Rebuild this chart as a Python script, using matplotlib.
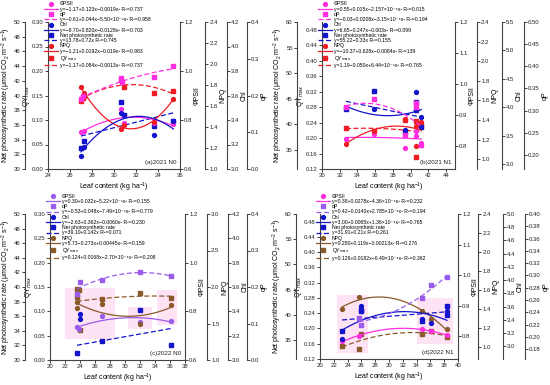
import numpy as np
import matplotlib
matplotlib.use("Agg")
import matplotlib.pyplot as plt
from matplotlib.lines import Line2D
from matplotlib.patches import Rectangle

plt.rcParams['font.family'] = ['Liberation Sans', 'DejaVu Sans']
plt.rcParams['mathtext.fontset'] = 'custom'
plt.rcParams['mathtext.rm'] = 'Liberation Sans'

# ---------------- data ----------------
# panel (a) 2021 N0
a_phi_x = [27.0, 27.3, 30.6, 30.9, 33.6, 35.4]
a_phi_y = [0.749, 0.754, 0.843, 0.786, 0.786, 0.784]
a_qp_x = [27.0, 27.2, 30.6, 30.7, 33.6, 35.4]
a_qp_y = [0.190, 0.198, 0.248, 0.236, 0.250, 0.279]
a_chl_x = [27.0, 27.3, 30.6, 30.9, 33.6, 35.4]
a_chl_y = [3.11, 3.18, 3.46, 3.44, 3.28, 3.39]
a_pn_x = [27.0, 27.3, 30.6, 30.9, 33.6, 35.4]
a_pn_y = [32.9, 33.8, 39.1, 37.3, 35.9, 36.5]
a_npq_x = [27.0, 27.3, 30.6, 30.9, 33.6, 35.4]
a_npq_y = [1.78, 1.72, 1.38, 1.42, 1.45, 1.67]
a_qy_x = [27.0, 27.2, 27.3, 30.6, 30.9, 33.6, 35.4]
a_qy_y = [0.138, 0.145, 0.150, 0.182, 0.168, 0.155, 0.159]
a_eq = ["y=\u22121.17+0.123x\u22120.0019x\u00b2 R\u00b2=0.737",
        "y=\u22120.61+0.044x\u22125.50\u00d710\u207b\u2074x\u00b2 R\u00b2=0.958",
        "y=\u22129.70+0.820x\u22120.0128x\u00b2 R\u00b2=0.703",
        "y=13.78+0.72x R\u00b2=0.745",
        "y=\u22121.21+0.0192x\u22120.019x\u00b2 R\u00b2=0.983",
        "y=\u22121.17+0.084x\u22120.0013x\u00b2 R\u00b2=0.737"]

# panel (b) 2021 N1
b_phi_x = [32.7, 35.9, 39.4, 40.6, 40.6, 41.2]
b_phi_y = [0.824, 0.840, 0.795, 0.848, 0.832, 0.811]
b_qp_x = [32.7, 35.9, 39.4, 40.6, 40.6, 41.2]
b_qp_y = [0.308, 0.325, 0.245, 0.317, 0.309, 0.223]
b_chl_x = [32.7, 35.9, 39.4, 40.6, 41.2]
b_chl_y = [3.99, 3.97, 3.60, 4.27, 3.82]
b_pn_x = [32.7, 35.9, 39.4, 40.6, 40.6, 41.2]
b_pn_y = [43.0, 46.4, 38.4, 44.3, 42.7, 39.4]
b_npq_x = [32.7, 35.9, 39.4, 40.6, 40.6, 41.2]
b_npq_y = [1.16, 1.29, 1.41, 1.34, 1.13, 1.38]
b_qy_x = [32.7, 35.9, 39.4, 40.6, 40.6, 41.2]
b_qy_y = [0.226, 0.218, 0.246, 0.244, 0.150, 0.235]
b_eq = ["y=0.55+0.015x\u22122.157\u00d710\u207b\u2074x\u00b2 R\u00b2=0.015",
        "y=\u22120.03+0.0208x\u22123.15\u00d710\u207b\u2074x\u00b2 R\u00b2=0.194",
        "y=6.65\u22120.247x\u22120.003x\u00b2 R\u00b2=0.099",
        "y=55.22\u22120.33x R\u00b2=0.155",
        "y=\u221210.37+0.628x\u22120.0084x\u00b2 R\u00b2=139",
        "y=1.19\u22120.050x+6.44\u00d710\u207b\u2074x\u00b2 R\u00b2=0.765"]

# panel (c) 2022 N0
c_phi_x = [23.6, 23.8, 26.9, 32.0, 36.1]
c_phi_y = [0.735, 0.728, 0.780, 0.758, 0.762]
c_qp_x = [23.6, 24.0, 26.9, 32.0, 36.1]
c_qp_y = [0.182, 0.214, 0.218, 0.241, 0.230]
c_chl_x = [24.0, 24.0]
c_chl_y = [3.38, 3.34]
c_pn_x = [23.6, 26.9, 32.0, 36.1]
c_pn_y = [30.9, 32.65, 36.9, 32.06]
c_npq_x = [23.6, 23.6, 26.9, 32.0, 36.1]
c_npq_y = [1.79, 1.71, 1.77, 1.50, 1.76]
c_qy_x = [23.6, 23.8, 23.6, 24.0, 26.9, 32.0, 36.1]
c_qy_y = [0.145, 0.143, 0.129, 0.0625, 0.126, 0.138, 0.128]
c_eq = ["y=0.30+0.032x\u22125.22\u00d710\u207b\u2074x\u00b2 R\u00b2=0.155",
        "y=\u22120.53+0.048x\u22127.49\u00d710\u207b\u2074x\u00b2 R\u00b2=0.779",
        "y=\u22122.63+0.362x\u22120.0060x\u00b2 R\u00b2=0.230",
        "y=39.10+0.142x R\u00b2=0.071",
        "y=5.73\u22120.273x+0.00445x\u00b2 R\u00b2=0.159",
        "y=0.124+0.0168x\u22122.70\u00d710\u207b\u2074x\u00b2 R\u00b2=0.208"]
c_band_x0 = [22.0, 30.4, 34.2]
c_band_x1 = [28.7, 33.6, 36.9]
c_band_y0 = [0.043, 0.064, 0.072]
c_band_y1 = [0.148, 0.108, 0.143]

# panel (d) 2022 N1
d_phi_x = [23.2, 25.6, 34.8, 36.1, 38.4]
d_phi_y = [0.784, 0.800, 0.825, 0.816, 0.803]
d_qp_x = [25.6, 26.0, 34.8, 36.1, 38.4]
d_qp_y = [0.231, 0.219, 0.263, 0.285, 0.297]
d_chl_x = [23.2, 26.0, 34.8, 36.1, 38.4]
d_chl_y = [3.11, 3.61, 3.41, 3.35, 3.53]
d_pn_x = [23.2, 26.0, 26.0, 34.8, 38.4, 38.4]
d_pn_y = [36.7, 41.0, 40.7, 38.7, 41.7, 40.0]
d_npq_x = [23.2, 25.6, 34.8, 36.1, 38.4]
d_npq_y = [1.40, 1.52, 1.38, 1.29, 1.19]
d_qy_x = [23.2, 25.6, 26.0, 34.8, 36.1, 38.4]
d_qy_y = [0.155, 0.146, 0.186, 0.186, 0.193, 0.178]
d_eq = ["y=0.38+0.0278x\u22124.36\u00d710\u207b\u2074x\u00b2 R\u00b2=0.232",
        "y=0.42\u22120.0140x+2.785\u00d710\u207b\u2074x\u00b2 R\u00b2=0.194",
        "y=3.00+0.0065x+1.36\u00d710\u207b\u2074x\u00b2 R\u00b2=0.765",
        "y=31.91+0.21x R\u00b2=0.261",
        "y=0.280+0.119x\u22120.00213x\u00b2 R\u00b2=0.276",
        "y=0.126+0.0182x\u22126.49\u00d710\u207b\u2074x\u00b2 R\u00b2=0.362"]
d_band_x0 = [22.4, 34.0]
d_band_x1 = [26.9, 39.3]
d_band_y0 = [0.137, 0.159]
d_band_y1 = [0.288, 0.280]

MAG = '#ff2ee0'
BLUE = '#1414cc'
RED = '#ee1c24'
PURP = '#9a5cea'
BROWN = '#8b5a2b'
SPINE = '#444444'

panels = [
    dict(rect=[48, 22, 132, 147], xlim=(24, 36), xticks=np.arange(24, 37, 2), tag='(a)2021 N0',
         qy=((0, 0.30), np.arange(0, 0.31, 0.05), '%.2f'),
         pn=((30, 50), np.arange(30, 51, 2), '%d', -0.174),
         phi=((0.6, 1.2), np.arange(0.6, 1.21, 0.2), '%.1f'),
         npq=((1.0, 2.4), np.arange(1.0, 2.41, 0.2), '%.1f', 1.19),
         chl=((3.0, 4.2), np.arange(3.0, 4.21, 0.2), '%.1f', 1.356),
         qp=((0.0, 0.4), np.arange(0, 0.41, 0.1), '%.1f', 1.508),
         series=[(a_phi_x, a_phi_y), (a_qp_x, a_qp_y), (a_chl_x, a_chl_y),
                 (a_pn_x, a_pn_y), (a_npq_x, a_npq_y), (a_qy_x, a_qy_y)],
         colors=[MAG, MAG, BLUE, BLUE, RED, RED], eq=a_eq, bands=None),
    dict(rect=[322, 22, 133, 147], xlim=(30, 45), xticks=np.arange(30, 45, 2), tag='(b)2021 N1',
         qy=((0.12, 0.50), np.arange(0.12, 0.49, 0.04), '%.2f'),
         pn=((31.2, 60), np.arange(35, 61, 5), '%d', -0.188),
         phi=((0.726, 1.2), np.arange(0.8, 1.21, 0.1), '%.1f'),
         npq=((0.9, 2.4), np.arange(1.0, 2.41, 0.2), '%.1f', 1.165),
         chl=((2.91, 5.5), np.arange(3.0, 5.51, 0.5), '%.1f', 1.353),
         qp=((0.168, 0.50), np.arange(0.20, 0.51, 0.05), '%.2f', 1.519),
         series=[(b_phi_x, b_phi_y), (b_qp_x, b_qp_y), (b_chl_x, b_chl_y),
                 (b_pn_x, b_pn_y), (b_npq_x, b_npq_y), (b_qy_x, b_qy_y)],
         colors=[MAG, MAG, BLUE, BLUE, RED, RED], eq=b_eq, bands=None),
    dict(rect=[50, 214, 135, 146], xlim=(20, 38), xticks=np.arange(20, 39, 2), tag='(c)2022 N0',
         qy=((0, 0.30), np.arange(0, 0.31, 0.05), '%.2f'),
         pn=((30, 50), np.arange(30, 51, 2), '%d', -0.185),
         phi=((0.6, 1.2), np.arange(0.6, 1.21, 0.2), '%.1f'),
         npq=((1.0, 3.0), np.arange(1.0, 3.01, 0.5), '%.1f', 1.163),
         chl=((3.0, 4.2), np.arange(3.0, 4.21, 0.2), '%.1f', 1.319),
         qp=((0.0, 0.4), np.arange(0, 0.41, 0.1), '%.1f', 1.459),
         series=[(c_phi_x, c_phi_y), (c_qp_x, c_qp_y), (c_chl_x, c_chl_y),
                 (c_pn_x, c_pn_y), (c_npq_x, c_npq_y), (c_qy_x, c_qy_y)],
         colors=[PURP, PURP, BLUE, BLUE, BROWN, BROWN], eq=c_eq,
         bands=(c_band_x0, c_band_x1, c_band_y0, c_band_y1)),
    dict(rect=[320, 214, 138, 145], xlim=(20, 40), xticks=np.arange(20, 41, 2), tag='(d)2022 N1',
         qy=((0.12, 0.50), np.arange(0.12, 0.49, 0.04), '%.2f'),
         pn=((31.2, 60), np.arange(35, 61, 5), '%d', -0.174),
         phi=((0.726, 1.2), np.arange(0.8, 1.21, 0.1), '%.1f'),
         npq=((0.87, 2.4), np.arange(1.0, 2.41, 0.2), '%.1f', 1.145),
         chl=((2.81, 5.0), np.arange(3.0, 5.01, 0.2), '%.1f', 1.326),
         qp=((0.164, 0.40), np.arange(0.18, 0.401, 0.02), '%.2f', 1.486),
         series=[(d_phi_x, d_phi_y), (d_qp_x, d_qp_y), (d_chl_x, d_chl_y),
                 (d_pn_x, d_pn_y), (d_npq_x, d_npq_y), (d_qy_x, d_qy_y)],
         colors=[MAG, PURP, BLUE, BLUE, BROWN, BROWN], eq=d_eq,
         bands=(d_band_x0, d_band_x1, d_band_y0, d_band_y1)),
]

names = ['\u03a6PSII', 'qP', 'Chl', 'Net photosynthetic rate', 'NPQ', 'QY$_{max}$']
markers = ['o', 's', 'o', 's', 'o', 's']
styles = ['-', '--', '-', '--', '-', '--']
degrees = [2, 2, 2, 1, 2, 2]

W, H = 550, 385
fig = plt.figure(figsize=(5.5, 3.85), dpi=100)


def style_axis(ax, side, pos=None):
    for s in ax.spines.values():
        s.set_visible(False)
    sp = ax.spines[side]
    sp.set_visible(True)
    sp.set_color(SPINE)
    sp.set_linewidth(0.8)
    if pos is not None:
        sp.set_position(('axes', pos))
    ax.yaxis.set_ticks_position(side)
    ax.yaxis.set_label_position(side)
    ax.tick_params(axis='y', direction='out', length=2, width=0.6, pad=1,
                   labelsize=4.3, colors='#222222')


for p in panels:
    l, t, w, h = p['rect']
    host = fig.add_axes([l / W, 1 - (t + h) / H, w / W, h / H])
    host.patch.set_alpha(0)
    style_axis(host, 'left')
    host.spines['bottom'].set_visible(True)
    host.spines['bottom'].set_color(SPINE)
    host.spines['bottom'].set_linewidth(0.8)
    host.set_xlim(*p['xlim'])
    host.set_xticks(p['xticks'])
    host.tick_params(axis='x', direction='out', length=2, width=0.6, pad=1,
                     labelsize=4.3, colors='#222222')
    host.set_xlabel('Leaf content (kg ha$^{-1}$)', fontsize=5, labelpad=2)
    host.set_ylim(*p['qy'][0])
    host.set_yticks(p['qy'][1])
    host.yaxis.set_major_formatter(plt.FormatStrFormatter(p['qy'][2]))
    host.set_ylabel('QY$_{max}$', fontsize=5, labelpad=0)

    ax_pn = host.twinx()
    style_axis(ax_pn, 'left', p['pn'][3])
    ax_phi = host.twinx()
    style_axis(ax_phi, 'right', 1.0)
    ax_npq = host.twinx()
    style_axis(ax_npq, 'right', p['npq'][3])
    ax_chl = host.twinx()
    style_axis(ax_chl, 'right', p['chl'][3])
    ax_qp = host.twinx()
    style_axis(ax_qp, 'right', p['qp'][3])

    for ax, key, lab in [(ax_pn, 'pn', 'Net photosynthetic rate (\u03bcmol CO$_2$ m$^{-2}$ s$^{-1}$)'),
                         (ax_phi, 'phi', '\u03a6PSII'), (ax_npq, 'npq', 'NPQ'),
                         (ax_chl, 'chl', 'Chl'), (ax_qp, 'qp', 'qP')]:
        ax.set_ylim(*p[key][0])
        ax.set_yticks(p[key][1])
        ax.yaxis.set_major_formatter(plt.FormatStrFormatter(p[key][2]))
        ax.set_ylabel(lab, fontsize=5, labelpad=1)
        ax.patch.set_alpha(0)

    if p['bands'] is not None:
        for x0, x1, y0, y1 in zip(*p['bands']):
            host.add_patch(Rectangle((x0, y0), x1 - x0, y1 - y0, facecolor='#fde3f3',
                                     edgecolor='none', zorder=0))

    # series order: phi, qp, chl, pn, npq, qy
    targets = [ax_phi, ax_qp, ax_chl, ax_pn, ax_npq, host]
    handles = []
    for i, (ax, (xs, ys)) in enumerate(zip(targets, p['series'])):
        col = p['colors'][i]
        xs = np.array(xs)
        ys = np.array(ys)
        deg = min(degrees[i], len(np.unique(xs)) - 1)
        if deg >= 1 and len(np.unique(xs)) >= 3:
            coef = np.polyfit(xs, ys, deg)
            xx = np.linspace(xs.min(), xs.max(), 60)
            ax.plot(xx, np.polyval(coef, xx), color=col, lw=0.9, ls=styles[i],
                    dashes=(4, 2) if styles[i] == '--' else (None, None), zorder=2)
        ax.plot(xs, ys, ls='none', marker=markers[i], ms=2.8, color=col, zorder=3)
        handles.append(Line2D([], [], ls='none', marker=markers[i], ms=2.8, color=col,
                              label=names[i]))
        lh = Line2D([], [], color=col, lw=0.9, ls=styles[i], label=p['eq'][i])
        if styles[i] == '--':
            lh.set_dashes((4, 2))
        handles.append(lh)

    leg = ax_qp.legend(handles=handles, loc='upper left', bbox_to_anchor=(-0.03, 1.14),
                       bbox_transform=host.transAxes, frameon=False, fontsize=3.7,
                       labelspacing=0.05, handlelength=2.8, handletextpad=0.3,
                       borderpad=0, borderaxespad=0)
    host.text(0.97, 0.03, p['tag'], transform=host.transAxes, ha='right', va='bottom',
              fontsize=4.5, color='#222222')

fig.savefig('out.png', dpi=100)
